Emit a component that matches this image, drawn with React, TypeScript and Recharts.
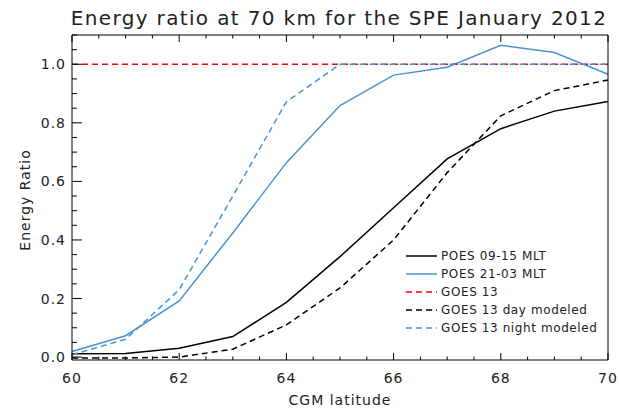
import { LineChart, Line, XAxis, YAxis, Legend } from "recharts";

const latitude = [60, 61, 62, 63, 64, 65, 66, 67, 68, 69, 70];
const poesDay = [0.011, 0.012, 0.03, 0.07, 0.187, 0.343, 0.51, 0.677, 0.78, 0.84, 0.873];
const poesNight = [0.019, 0.073, 0.192, 0.424, 0.664, 0.859, 0.963, 0.99, 1.065, 1.04, 0.966];
const goes13 = [1, 1, 1, 1, 1, 1, 1, 1, 1, 1, 1];
const goesDayModel = [-0.003, -0.003, 0.0, 0.027, 0.11, 0.236, 0.4, 0.63, 0.824, 0.91, 0.946];
const goesNightModel = [0.008, 0.061, 0.23, 0.55, 0.872, 1.0, 1.0, 1.0, 1.0, 1.0, 1.0];

const xTicks = [60, 60.5, 61, 61.5, 62, 62.5, 63, 63.5, 64, 64.5, 65, 65.5, 66, 66.5, 67, 67.5, 68, 68.5, 69, 69.5, 70];
const xLabels = [60, 62, 64, 66, 68, 70];
const yTicks = [0, 0.05, 0.1, 0.15, 0.2, 0.25, 0.3, 0.35, 0.4, 0.45, 0.5, 0.55, 0.6, 0.65, 0.7, 0.75, 0.8, 0.85, 0.9, 0.95, 1.0, 1.05, 1.1];
const yLabels = [0, 0.2, 0.4, 0.6, 0.8, 1.0];

const BLUE = "#4a92d4";
const FONT = "'DejaVu Sans', sans-serif";
const TEXT = "#222";

const series = [
  { key: "poesDay", name: "POES 09-15 MLT", color: "#000", dash: undefined },
  { key: "poesNight", name: "POES 21-03 MLT", color: BLUE, dash: undefined },
  { key: "goes13", name: "GOES 13", color: "#ff0000", dash: "6 4" },
  { key: "goesDayModel", name: "GOES 13 day modeled", color: "#000", dash: "6 4" },
  { key: "goesNightModel", name: "GOES 13 night modeled", color: BLUE, dash: "6 4" },
];

const data = latitude.map((lat, i) => ({
  lat,
  poesDay: poesDay[i],
  poesNight: poesNight[i],
  goes13: goes13[i],
  goesDayModel: goesDayModel[i],
  goesNightModel: goesNightModel[i],
}));

const isMajor = (labels: number[], v: number) => labels.some((l) => Math.abs(l - v) < 1e-6);

function BottomTick({ x, y, payload }: any) {
  const major = isMajor(xLabels, payload.value);
  return (
    <g>
      <line x1={x} y1={y} x2={x} y2={y - (major ? 7 : 3.5)} stroke="#000" />
      {major && (
        <text x={x} y={y + 23} textAnchor="middle" fill={TEXT} fontSize={14} fontFamily={FONT} letterSpacing={1}>
          {payload.value}
        </text>
      )}
    </g>
  );
}

function TopTick({ x, y, payload }: any) {
  const major = isMajor(xLabels, payload.value);
  return <line x1={x} y1={y} x2={x} y2={y + (major ? 7 : 3.5)} stroke="#000" />;
}

function LeftTick({ x, y, payload }: any) {
  const major = isMajor(yLabels, payload.value);
  return (
    <g>
      <line x1={x} y1={y} x2={x + (major ? 10 : 5)} y2={y} stroke="#000" />
      {major && (
        <text x={x - 6} y={y + 5} textAnchor="end" fill={TEXT} fontSize={14} fontFamily={FONT} letterSpacing={1}>
          {payload.value.toFixed(1)}
        </text>
      )}
    </g>
  );
}

function RightTick({ x, y, payload }: any) {
  const major = isMajor(yLabels, payload.value);
  return <line x1={x} y1={y} x2={x - (major ? 10 : 5)} y2={y} stroke="#000" />;
}

function LegendBox() {
  return (
    <div style={{ fontFamily: FONT, fontSize: 12, color: TEXT, letterSpacing: 0.6, textAlign: "left" }}>
      {series.map((s) => (
        <div key={s.key} style={{ display: "flex", alignItems: "center", height: 18 }}>
          <svg width={36} height={18}>
            <line x1={1} y1={9} x2={32} y2={9} stroke={s.color} strokeWidth={1.5} strokeDasharray={s.dash} />
          </svg>
          <span>{s.name}</span>
        </div>
      ))}
    </div>
  );
}

export default function App() {
  return (
    <div style={{ position: "absolute", left: 0, top: 0, width: 619, height: 410, background: "#fff" }}>
      <LineChart width={619} height={410} data={data} margin={{ top: 34, right: 10, bottom: 10, left: 12 }}>
        <XAxis
          xAxisId="bottom"
          dataKey="lat"
          type="number"
          domain={[60, 70]}
          ticks={xTicks}
          interval={0}
          tick={<BottomTick />}
          tickLine={false}
          tickSize={0}
          tickMargin={0}
          height={40}
          axisLine={{ stroke: "#000" }}
        />
        <XAxis
          xAxisId="top"
          orientation="top"
          dataKey="lat"
          type="number"
          domain={[60, 70]}
          ticks={xTicks}
          interval={0}
          tick={<TopTick />}
          tickLine={false}
          tickSize={0}
          tickMargin={0}
          height={1}
          axisLine={{ stroke: "#000" }}
        />
        <YAxis
          yAxisId="left"
          type="number"
          domain={[-0.01, 1.1]}
          ticks={yTicks}
          interval={0}
          tick={<LeftTick />}
          tickLine={false}
          tickSize={0}
          tickMargin={0}
          width={60}
          axisLine={{ stroke: "#000" }}
        />
        <YAxis
          yAxisId="right"
          orientation="right"
          type="number"
          domain={[-0.01, 1.1]}
          ticks={yTicks}
          interval={0}
          tick={<RightTick />}
          tickLine={false}
          tickSize={0}
          tickMargin={0}
          width={1}
          axisLine={{ stroke: "#000" }}
        />
        {series.map((s) => (
          <Line
            key={s.key}
            xAxisId="bottom"
            yAxisId="left"
            type="linear"
            dataKey={s.key}
            name={s.name}
            stroke={s.color}
            strokeWidth={1.5}
            strokeDasharray={s.dash}
            dot={false}
            activeDot={false}
            isAnimationActive={false}
          />
        ))}
        <Legend
          layout="horizontal"
          verticalAlign="middle"
          align="center"
          content={<LegendBox />}
          wrapperStyle={{ left: 405, top: 247, width: 210 }}
        />
      </LineChart>
      <svg width={619} height={410} style={{ position: "absolute", left: 0, top: 0, pointerEvents: "none" }}>
        <text x={339} y={25} textAnchor="middle" fill={TEXT} fontSize={20} fontFamily={FONT} letterSpacing={1.35}>
          Energy ratio at 70 km for the SPE January 2012
        </text>
        <text x={340} y={405} textAnchor="middle" fill={TEXT} fontSize={14} fontFamily={FONT} letterSpacing={1}>
          CGM latitude
        </text>
        <text
          x={30}
          y={200}
          textAnchor="middle"
          fill={TEXT}
          fontSize={14}
          fontFamily={FONT}
          letterSpacing={1}
          transform="rotate(-90 30 200)"
        >
          Energy Ratio
        </text>
      </svg>
    </div>
  );
}
